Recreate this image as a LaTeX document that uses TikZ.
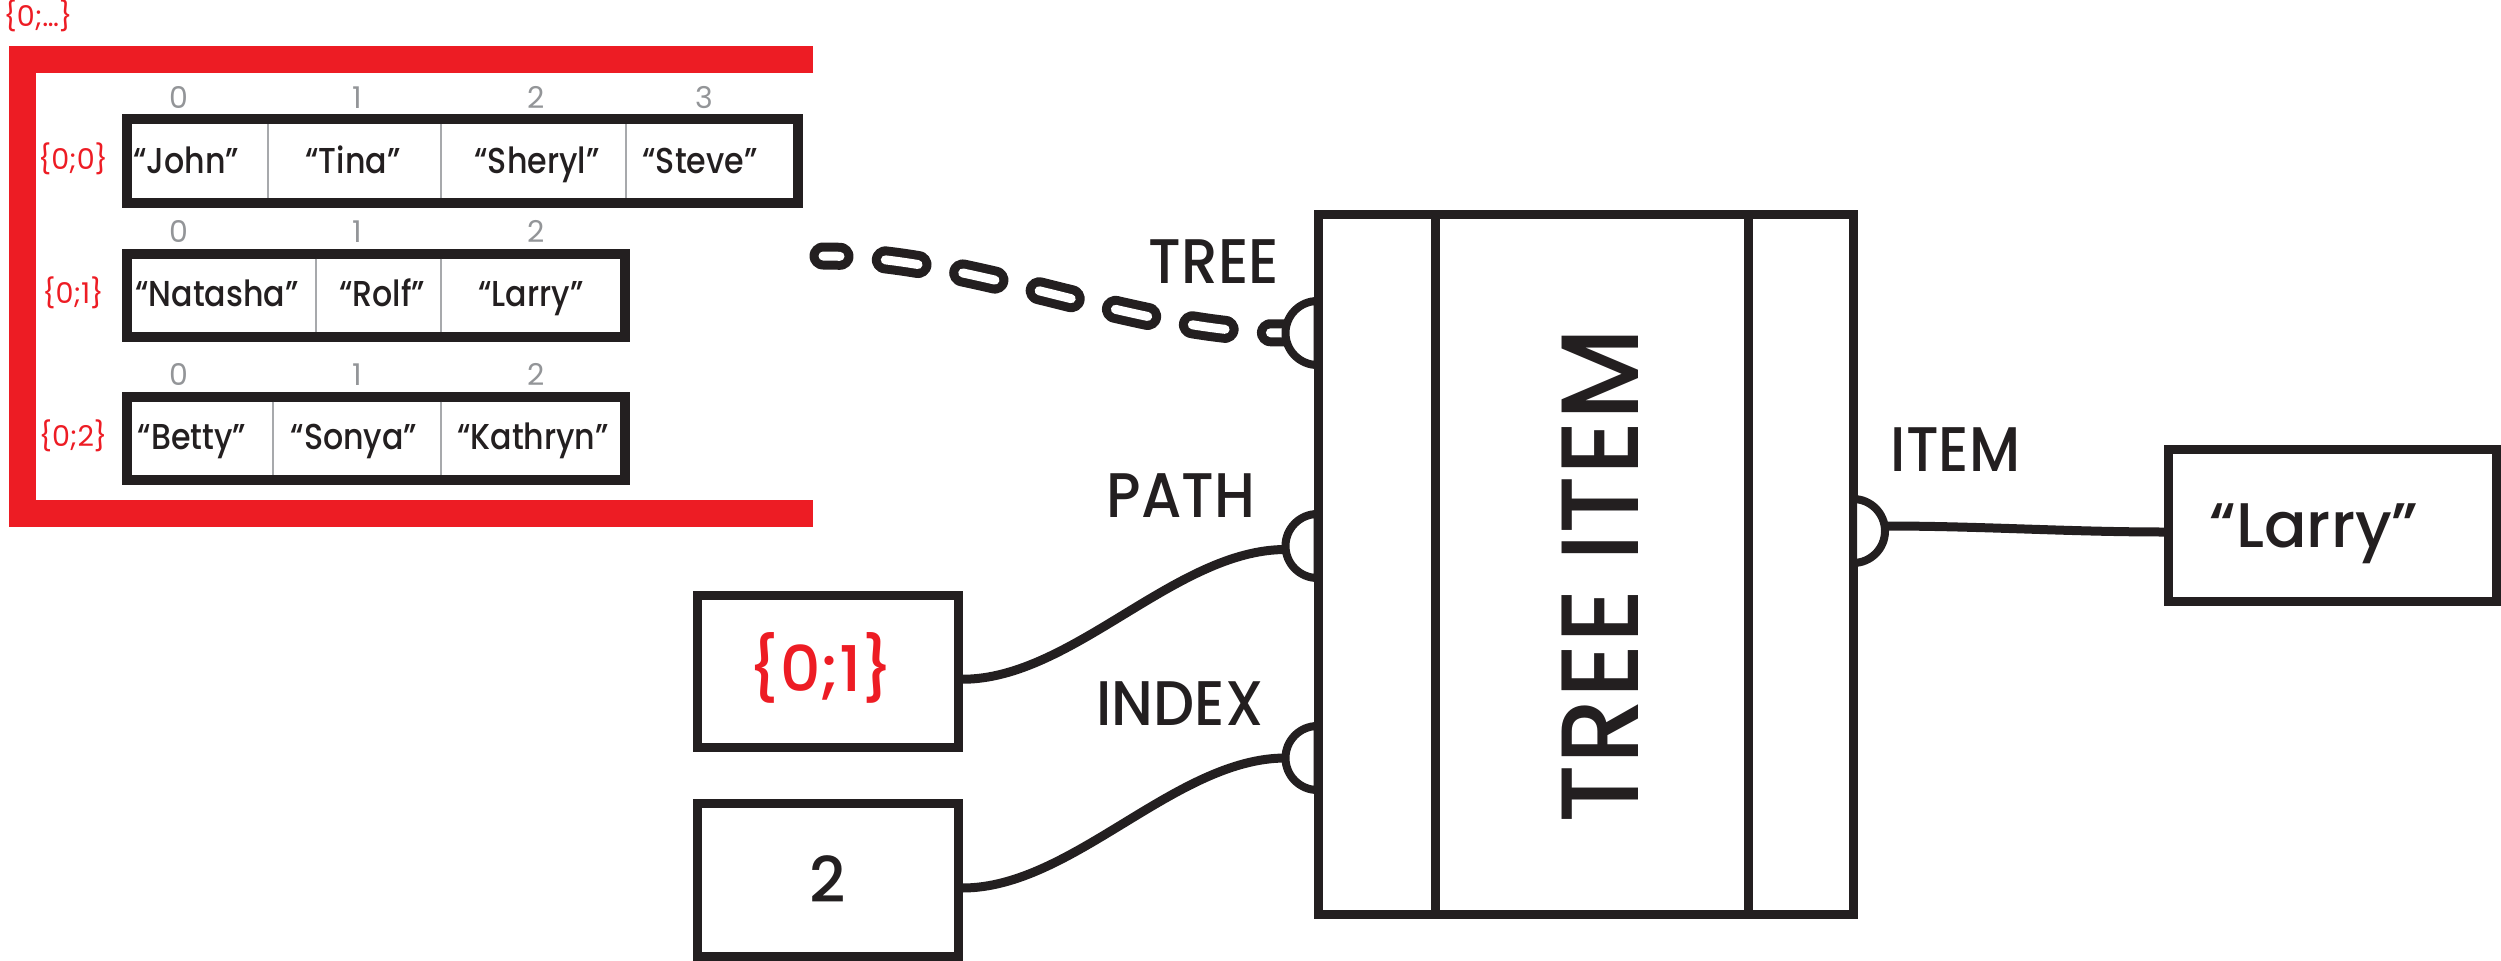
\documentclass[tikz,border=0pt]{standalone}
\usepackage{fontspec}
\setmainfont{Poppins}[UprightFont=* Medium]
\newfontfamily\cellfam{Poppins}[UprightFont=* Medium, FakeStretch=0.88]
\newfontfamily\portfam{Poppins}[UprightFont=* Medium, FakeStretch=0.92]
\newfontfamily\titlefam{Poppins}[UprightFont=* Medium, FakeStretch=0.95]
\newfontfamily\thinfam{Poppins}
\usetikzlibrary{calc}
\definecolor{ink}{HTML}{231F20}
\definecolor{hred}{HTML}{ED1C24}
\definecolor{idxgray}{HTML}{939598}
\definecolor{divgray}{HTML}{A7A9AC}
\newcommand{\szport}{\portfam\fontsize{63pt}{63pt}\selectfont}
\newcommand{\szbox}{\fontsize{63pt}{63pt}\selectfont}
\newcommand{\szbig}{\titlefam\fontsize{110pt}{110pt}\selectfont}
\newcommand{\szcell}{\cellfam\fontsize{36pt}{36pt}\selectfont}
\newcommand{\szidx}{\thinfam\fontsize{30pt}{30pt}\selectfont}
\newcommand{\szrow}{\thinfam\fontsize{28.6pt}{28.6pt}\selectfont}
\begin{document}
\begin{tikzpicture}[x=1pt,y=-1pt,
  every node/.style={inner sep=0pt},
  box/.style={draw=ink, line width=9pt},
  rowbox/.style={draw=ink, line width=10pt},
  port/.style={draw=ink, line width=8pt, fill=white},
  wire/.style={draw=ink, line width=9pt},
  divider/.style={draw=divgray, line width=1.5pt},
  cell/.style={font=\szcell, text=ink, anchor=base},
  idx/.style={font=\szidx, text=idxgray, anchor=base},
  rowlbl/.style={font=\szrow, text=hred, anchor=base},
  plbl/.style={font=\szport, text=ink, anchor=base},
  btxt/.style={font=\szbox, text=ink, anchor=base},
  dashwire/.style={line cap=round, dash pattern=on 33pt off 45.5pt, dash phase=16pt}]
\useasboundingbox (0,0) rectangle (2501,961);
% red bracket
\draw[hred, line width=27pt] (813,59) -- (22.75,59) -- (22.75,513) -- (813,513);
\node[rowlbl] (toplbl) at (38,27) {\{0;…\}};
% rows
\node[rowbox, minimum width=671pt, minimum height=84pt] (row0) at (462,161) {};
\node[rowbox, minimum width=498pt, minimum height=83pt] (row1) at (375.5,295) {};
\node[rowbox, minimum width=498pt, minimum height=83.5pt] (row2) at (375.5,438.25) {};
\foreach \x in {268,441,626} \draw[divider] (\x,124) -- (\x,198);
\foreach \x in {316,441} \draw[divider] (\x,258.5) -- (\x,331.5);
\foreach \x in {273,441} \draw[divider] (\x,401.5) -- (\x,475);
\node[rowlbl] (r0lbl) at (73,169) {\{0;0\}};
\node[rowlbl] (r1lbl) at (73,303) {\{0;1\}};
\node[rowlbl] (r2lbl) at (73,446) {\{0;2\}};
\node[idx] (i00) at (179,108) {0};
\node[idx] (i01) at (357,108) {1};
\node[idx] (i02) at (536,108) {2};
\node[idx] (i03) at (704,108) {3};
\node[idx] (i10) at (179,242) {0};
\node[idx] (i11) at (357,242) {1};
\node[idx] (i12) at (536,242) {2};
\node[idx] (i20) at (179,385) {0};
\node[idx] (i21) at (357,385) {1};
\node[idx] (i22) at (536,385) {2};
\node[cell] (c00) at (186,173) {“John”};
\node[cell] (c01) at (353,173) {“Tina”};
\node[cell] (c02) at (537,173) {“Sheryl”};
\node[cell] (c03) at (700,173) {“Steve”};
\node[cell] (c10) at (217,306) {“Natasha”};
\node[cell] (c11) at (382,306) {“Rolf”};
\node[cell] (c12) at (531,306) {“Larry”};
\node[cell] (c20) at (192,449) {“Betty”};
\node[cell] (c21) at (354,449) {“Sonya”};
\node[cell] (c22) at (533,449) {“Kathryn”};
% input boxes
\node[box, minimum width=261pt, minimum height=152.5pt] (pathbox) at (827.5,671.25) {};
\node[btxt, text=hred] (pathval) at (821,691) {\{0;1\}};
\node[box, minimum width=261pt, minimum height=153pt] (idxbox) at (827.5,879.5) {};
\node[btxt] (idxval) at (828,902.5) {2};
% component
\node[box, minimum width=535pt, minimum height=699.5pt] (comp) at (1585.5,564.25) {};
\draw[wire] (1435,214.5) -- (1435,914);
\draw[wire] (1748,214.5) -- (1748,914);
\node[font=\szbig, text=ink, rotate=90] (title) at (1600,576) {TREE ITEM};
\coordinate (ptree) at (1317.5,333);
\coordinate (ppath) at (1317.5,546);
\coordinate (pindex) at (1317.5,758);
\coordinate (pitem) at (1853,531);
\node[plbl] (ltree) at (1214,283) {TREE};
\node[plbl] (lpath) at (1181,517) {PATH};
\node[plbl] (lindex) at (1180,725.5) {INDEX};
\node[plbl] (litem) at (1955.5,471) {ITEM};
% output box
\node[box, minimum width=327.5pt, minimum height=152pt] (larry) at (2332.25,525.5) {};
\node[btxt] (larrytxt) at (2314,547) {“Larry”};
% wires
\coordinate (treestart) at (823,256);
\draw[ink, line width=27pt, dashwire] (treestart) .. controls +(152,0) and +(-152,0) .. ([xshift=-32pt]ptree);
\draw[white, line width=9pt, dashwire] (treestart) .. controls +(152,0) and +(-152,0) .. ([xshift=-32pt]ptree);
\draw[wire] ([yshift=-8pt]pathbox.east) .. controls +(110,0) and +(-110,0) .. ([xshift=-32pt,yshift=-3.5pt]ppath);
\draw[wire] ([yshift=-8.5pt]idxbox.east) .. controls +(110,0) and +(-110,0) .. ([xshift=-32pt]pindex);
\draw[wire] ([xshift=32pt,yshift=5pt]pitem) .. controls +(95,0) and +(-95,0) .. ([yshift=-6.5pt]larry.west);
% ports
\foreach \p in {ptree,ppath,pindex}
  \filldraw[port] ([yshift=32pt]\p) arc[start angle=90, end angle=270, radius=32pt] -- cycle;
\filldraw[port] ([yshift=32pt]pitem) arc[start angle=90, end angle=-90, radius=32pt] -- cycle;
\end{tikzpicture}
\end{document}
